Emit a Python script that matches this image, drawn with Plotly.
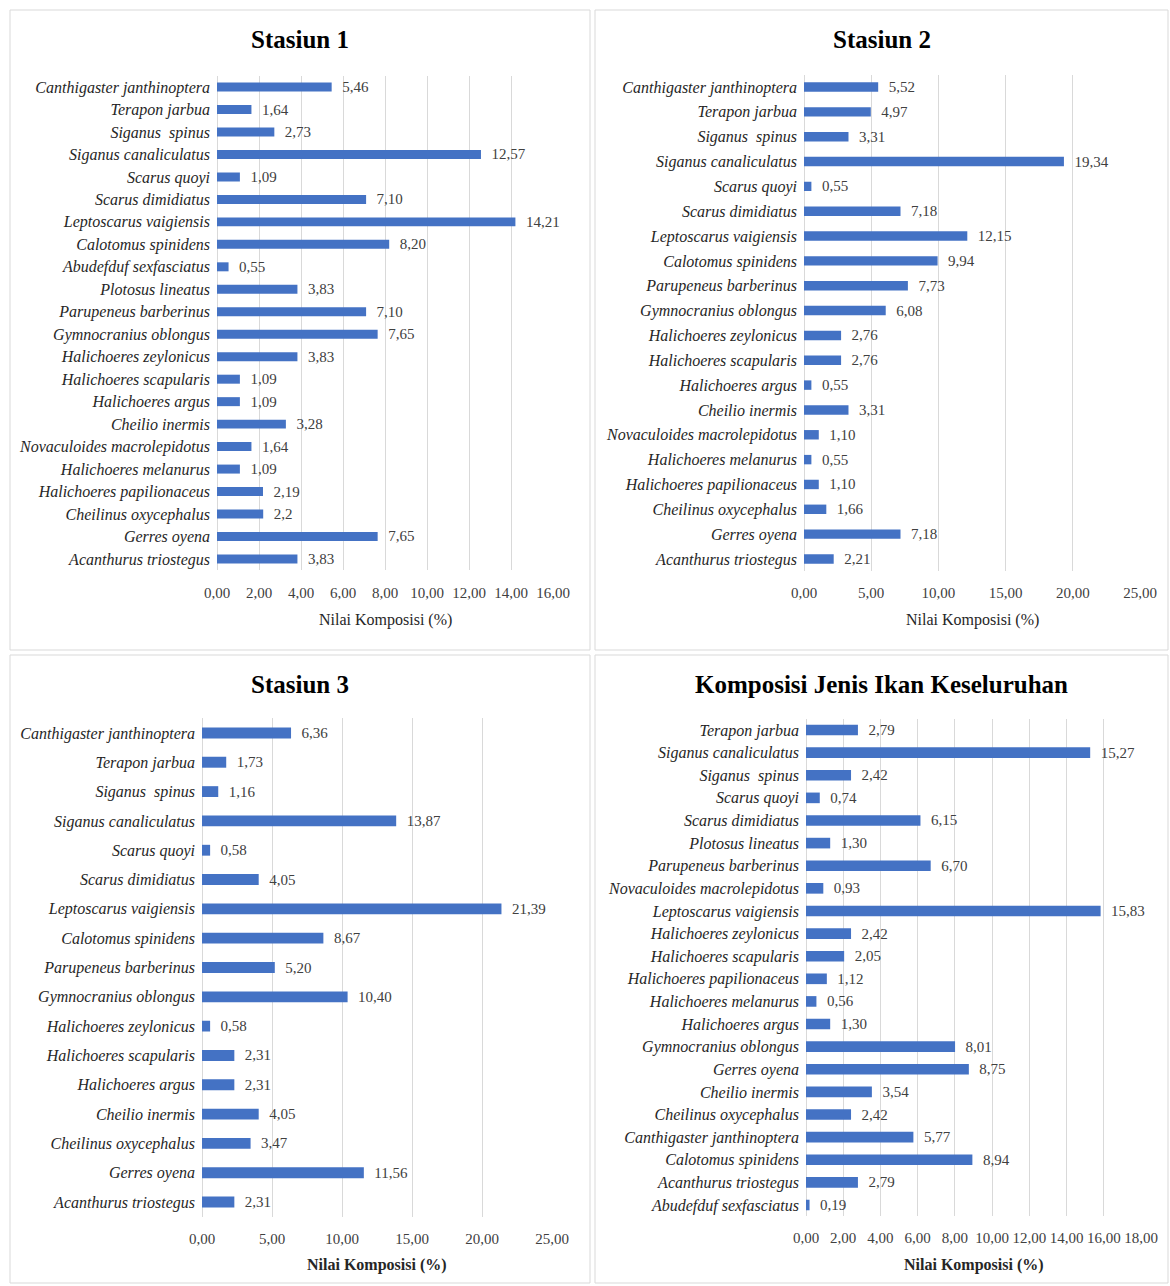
import plotly.graph_objects as go

W, H = 1170, 1286

# ---------------- data ----------------
s1_species = ["Canthigaster janthinoptera", "Terapon jarbua", "Siganus  spinus", "Siganus canaliculatus",
              "Scarus quoyi", "Scarus dimidiatus", "Leptoscarus vaigiensis", "Calotomus spinidens",
              "Abudefduf sexfasciatus", "Plotosus lineatus", "Parupeneus barberinus", "Gymnocranius oblongus",
              "Halichoeres zeylonicus", "Halichoeres scapularis", "Halichoeres argus", "Cheilio inermis",
              "Novaculoides macrolepidotus", "Halichoeres melanurus", "Halichoeres papilionaceus",
              "Cheilinus oxycephalus", "Gerres oyena", "Acanthurus triostegus"]
s1_values = ["5,46", "1,64", "2,73", "12,57", "1,09", "7,10", "14,21", "8,20", "0,55", "3,83", "7,10",
             "7,65", "3,83", "1,09", "1,09", "3,28", "1,64", "1,09", "2,19", "2,2", "7,65", "3,83"]

s2_species = ["Canthigaster janthinoptera", "Terapon jarbua", "Siganus  spinus", "Siganus canaliculatus",
              "Scarus quoyi", "Scarus dimidiatus", "Leptoscarus vaigiensis", "Calotomus spinidens",
              "Parupeneus barberinus", "Gymnocranius oblongus", "Halichoeres zeylonicus",
              "Halichoeres scapularis", "Halichoeres argus", "Cheilio inermis", "Novaculoides macrolepidotus",
              "Halichoeres melanurus", "Halichoeres papilionaceus", "Cheilinus oxycephalus", "Gerres oyena",
              "Acanthurus triostegus"]
s2_values = ["5,52", "4,97", "3,31", "19,34", "0,55", "7,18", "12,15", "9,94", "7,73", "6,08", "2,76",
             "2,76", "0,55", "3,31", "1,10", "0,55", "1,10", "1,66", "7,18", "2,21"]

s3_species = ["Canthigaster janthinoptera", "Terapon jarbua", "Siganus  spinus", "Siganus canaliculatus",
              "Scarus quoyi", "Scarus dimidiatus", "Leptoscarus vaigiensis", "Calotomus spinidens",
              "Parupeneus barberinus", "Gymnocranius oblongus", "Halichoeres zeylonicus",
              "Halichoeres scapularis", "Halichoeres argus", "Cheilio inermis", "Cheilinus oxycephalus",
              "Gerres oyena", "Acanthurus triostegus"]
s3_values = ["6,36", "1,73", "1,16", "13,87", "0,58", "4,05", "21,39", "8,67", "5,20", "10,40", "0,58",
             "2,31", "2,31", "4,05", "3,47", "11,56", "2,31"]

all_species = ["Terapon jarbua", "Siganus canaliculatus", "Siganus  spinus", "Scarus quoyi",
               "Scarus dimidiatus", "Plotosus lineatus", "Parupeneus barberinus", "Novaculoides macrolepidotus",
               "Leptoscarus vaigiensis", "Halichoeres zeylonicus", "Halichoeres scapularis",
               "Halichoeres papilionaceus", "Halichoeres melanurus", "Halichoeres argus",
               "Gymnocranius oblongus", "Gerres oyena", "Cheilio inermis", "Cheilinus oxycephalus",
               "Canthigaster janthinoptera", "Calotomus spinidens", "Acanthurus triostegus",
               "Abudefduf sexfasciatus"]
all_values = ["2,79", "15,27", "2,42", "0,74", "6,15", "1,30", "6,70", "0,93", "15,83", "2,42", "2,05",
              "1,12", "0,56", "1,30", "8,01", "8,75", "3,54", "2,42", "5,77", "8,94", "2,79", "0,19"]

titles = ["Stasiun 1", "Stasiun 2", "Stasiun 3", "Komposisi Jenis Ikan Keseluruhan"]
axis_title = "Nilai Komposisi (%)"
x_max = [16, 25, 25, 18]
x_dtick = [2, 5, 5, 2]

# ---------------- layout (pixel geometry) ----------------
panels = [
    dict(box=(10, 10, 590, 650), x0=217, x1=553, y0=75.8, y1=570.2, title_y=40, tick_y=593, axt_y=620, bold=False, bw=0.40),
    dict(box=(595, 10, 1168, 650), x0=804, x1=1140, y0=74.6, y1=571.4, title_y=40, tick_y=593, axt_y=620, bold=False, bw=0.38),
    dict(box=(10, 655, 590, 1283), x0=202, x1=552, y0=718.3, y1=1216.7, title_y=684, tick_y=1238, axt_y=1265, bold=True, bw=0.37),
    dict(box=(595, 655, 1168, 1283), x0=806, x1=1141, y0=718.7, y1=1216.3, title_y=684, tick_y=1238, axt_y=1265, bold=True, bw=0.47),
]

datasets = [(s1_species, s1_values), (s2_species, s2_values), (s3_species, s3_values), (all_species, all_values)]

BLUE = "#4472C4"
GRID = "#D9D9D9"
SERIF = "Liberation Serif"
NB = "\u00a0\u00a0"

fig = go.Figure()
shapes, annotations = [], []

for i, ((cats, vals), p) in enumerate(zip(datasets, panels)):
    n = i + 1
    xa = "x" if n == 1 else f"x{n}"
    ya = "y" if n == 1 else f"y{n}"
    nums = [float(v.replace(",", ".")) for v in vals]
    fig.add_trace(go.Bar(
        x=nums, y=cats, orientation="h", xaxis=xa, yaxis=ya, width=p["bw"],
        marker=dict(color=BLUE, line=dict(width=0)),
        text=[NB + v for v in vals], textposition="outside", constraintext="none", cliponaxis=False,
        textfont=dict(family=SERIF, size=15, color="#404040"),
        showlegend=False, hoverinfo="x+y",
    ))
    xd = [p["x0"] / W, p["x1"] / W]
    yd = [1 - p["y1"] / H, 1 - p["y0"] / H]
    xk = "xaxis" if n == 1 else f"xaxis{n}"
    yk = "yaxis" if n == 1 else f"yaxis{n}"
    fig.update_layout(**{
        xk: dict(domain=xd, anchor=ya, range=[0, x_max[i]], dtick=x_dtick[i], tick0=0,
                 tickformat=".2f", showgrid=True, gridcolor=GRID, gridwidth=1,
                 zeroline=True, zerolinecolor=GRID, zerolinewidth=1, showline=False,
                 ticks="", ticklabelstandoff=int(p["tick_y"] - p["y1"] - 10), automargin=False,
                 tickfont=dict(family=SERIF, size=15, color="#404040"), fixedrange=True),
        yk: dict(domain=yd, anchor=xa, autorange="reversed", type="category",
                 showgrid=False, zeroline=False, showline=False, ticks="",
                 ticklabelstandoff=6, automargin=False,
                 tickfont=dict(family=SERIF, size=16, color="#262626", style="italic"), fixedrange=True),
    })
    bx0, by0, bx1, by1 = p["box"]
    shapes.append(dict(type="rect", xref="paper", yref="paper", x0=bx0 / W, x1=bx1 / W,
                       y0=1 - by1 / H, y1=1 - by0 / H, line=dict(color=GRID, width=1), layer="below"))
    annotations.append(dict(text=f"<b>{titles[i]}</b>", xref="paper", yref="paper",
                            x=((bx0 + bx1) / 2) / W, y=1 - p["title_y"] / H, xanchor="center", yanchor="middle",
                            showarrow=False, font=dict(family=SERIF, size=25, color="#000000")))
    at = f"<b>{axis_title}</b>" if p["bold"] else axis_title
    annotations.append(dict(text=at, xref="paper", yref="paper",
                            x=((p["x0"] + p["x1"]) / 2) / W, y=1 - p["axt_y"] / H, xanchor="center", yanchor="middle",
                            showarrow=False, font=dict(family=SERIF, size=16, color="#262626")))

fig.update_layout(
    width=W, height=H, margin=dict(l=0, r=0, t=0, b=0, autoexpand=False),
    paper_bgcolor="white", plot_bgcolor="white",
    separators=",.",
    shapes=shapes, annotations=annotations,
)

fig.write_html("out.html", config={"displayModeBar": False},
               post_script="document.body.style.margin='0';document.body.style.overflow='hidden';")
